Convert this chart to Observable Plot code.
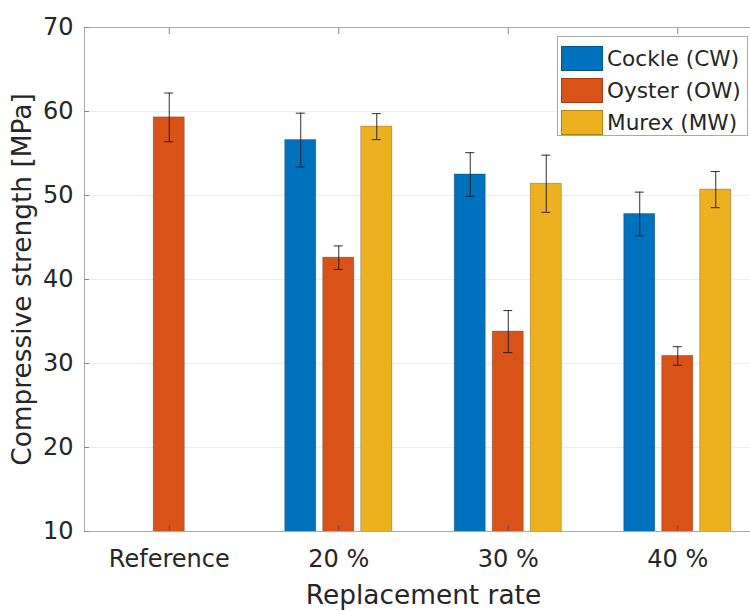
<!DOCTYPE html>
<html><head><meta charset="utf-8">
<script src="https://cdn.jsdelivr.net/npm/d3@7"></script>
<script src="https://cdn.jsdelivr.net/npm/@observablehq/plot@0.6"></script>
<style>
body{margin:0;background:#fff;}
#wrap{position:relative;width:750px;height:611px;overflow:hidden;font-family:"DejaVu Sans",sans-serif;}
#wrap svg{display:block;max-width:none !important;width:762px;height:611px;}
#legend{position:absolute;left:557px;top:36px;width:191px;height:100px;border:1px solid #a9a9a9;background:#fff;box-sizing:border-box;padding-top:5px;}
.row{display:flex;align-items:center;height:32.3px;}
.sw{width:42px;height:25px;margin-left:3px;margin-right:4px;box-sizing:border-box;border:1px solid rgba(0,0,0,.25);flex:none;}
.lab{font-size:21.6px;color:#262626;white-space:nowrap;}
</style></head><body><div id="wrap"></div>
<script>
const categories = ["Reference", "20 %", "30 %", "40 %"];
const seriesKeys = ["CW", "OW", "MW"];
const seriesNames = ["Cockle (CW)", "Oyster (OW)", "Murex (MW)"];
const seriesColors = ["#0072BD", "#D95319", "#EDB120"];
const cockle = [null, 56.6, 52.5, 47.8];
const cockleErr = [null, 3.2, 2.6, 2.6];
const oyster = [59.3, 42.6, 33.8, 30.9];
const oysterErr = [2.9, 1.4, 2.5, 1.1];
const murex = [null, 58.2, 51.4, 50.7];
const murexErr = [null, 1.55, 3.4, 2.15];
const yTicks = [10, 20, 30, 40, 50, 60, 70];
const xTitle = "Replacement rate";
const yTitle = "Compressive strength [MPa]";

const seriesValues = [cockle, oyster, murex];
const seriesErrs = [cockleErr, oysterErr, murexErr];
const rows = [];
categories.forEach((c, i) => seriesKeys.forEach((k, j) => {
  const v = seriesValues[j][i];
  if (v != null) rows.push({category: c, series: k, value: v, lo: v - seriesErrs[j][i], hi: v + seriesErrs[j][i]});
}));

const errStyle = {stroke: "#1a1a1a", strokeWidth: 1, strokeOpacity: 0.9};
const plot = Plot.plot({
  width: 762, height: 611, marginLeft: 84, marginRight: 0, marginTop: 27, marginBottom: 80,
  style: {fontFamily: "DejaVu Sans", fontSize: "24px", color: "#262626", background: "transparent", maxWidth: "none"},
  fx: {domain: categories, padding: 0, round: false},
  x: {domain: seriesKeys, paddingInner: 0.184, paddingOuter: 0.822, round: false, axis: null},
  y: {domain: [yTicks[0], yTicks[yTicks.length - 1]]},
  color: {domain: seriesKeys, range: seriesColors},
  marks: [
    Plot.gridY(yTicks, {stroke: "#000", strokeOpacity: 0.07}),
    Plot.barY(rows, {fx: "category", x: "series", y: "value", fill: "series", stroke: "#000", strokeOpacity: 0.3, strokeWidth: 0.8, clip: true}),
    Plot.ruleX(rows, {fx: "category", x: "series", y1: "lo", y2: "hi", ...errStyle}),
    Plot.tickY(rows, {fx: "category", x: "series", y: "hi", insetLeft: 11, insetRight: 11, ...errStyle}),
    Plot.tickY(rows, {fx: "category", x: "series", y: "lo", insetLeft: 11, insetRight: 11, ...errStyle}),
    Plot.frame({facet: "super", stroke: "#a9a9a9"}),
    Plot.axisY(yTicks, {anchor: "left", tickSize: -5, tickPadding: 16, stroke: "#888", fill: "#262626", label: null, fontSize: 24}),
    Plot.axisFx({anchor: "bottom", tickSize: -6, tickPadding: 24, stroke: "#555", fill: "#262626", label: null, fontSize: 24}),
    Plot.axisFx({anchor: "top", tickSize: -6, tickFormat: () => "", stroke: "#888", label: null}),
    Plot.text([xTitle], {facet: "super", frameAnchor: "bottom", dy: 64, lineAnchor: "middle", textAnchor: "middle", fontSize: 26.4, fill: "#262626"}),
    Plot.text([yTitle], {facet: "super", frameAnchor: "left", rotate: -90, dx: -62, lineAnchor: "middle", textAnchor: "middle", fontSize: 26.4, fill: "#262626"})
  ]
});
const wrap = document.getElementById("wrap");
wrap.appendChild(plot);

const legend = document.createElement("div");
legend.id = "legend";
seriesNames.forEach((name, j) => {
  const row = document.createElement("div");
  row.className = "row";
  const sw = document.createElement("div");
  sw.className = "sw";
  sw.style.background = seriesColors[j];
  const lab = document.createElement("span");
  lab.className = "lab";
  lab.textContent = name;
  row.appendChild(sw);
  row.appendChild(lab);
  legend.appendChild(row);
});
wrap.appendChild(legend);
</script></body></html>
